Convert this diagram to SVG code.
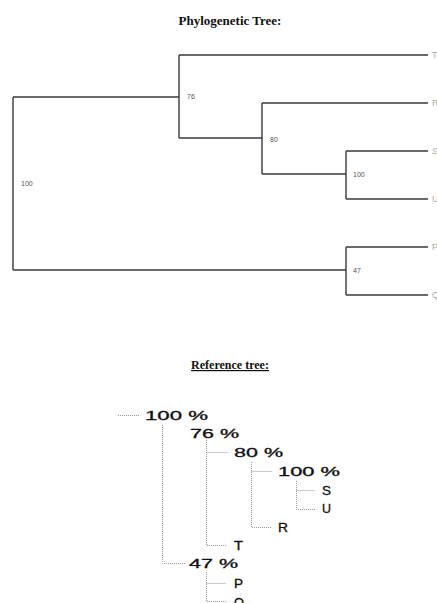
<svg xmlns="http://www.w3.org/2000/svg" width="437" height="603" viewBox="0 0 437 603">
<style>
  .title{font-family:"Liberation Serif",serif;font-weight:bold;fill:#111;text-anchor:middle}
  .br{fill:none;stroke:#3a3a3a;stroke-width:1.4}
  .bs{font-family:"Liberation Sans",sans-serif;font-size:7px;fill:#555}
  .leaf{font-family:"Liberation Sans",sans-serif;font-size:9px;fill:#aaa}
  .dot{fill:none;stroke:#999;stroke-width:1;stroke-dasharray:1 1}
  .rt{font-family:"Liberation Sans",sans-serif;font-size:12px;fill:#111;stroke:#111;stroke-width:0.3}
</style>
<rect width="437" height="603" fill="#fff"/>
<text class="title" x="230" y="25" font-size="13">Phylogenetic Tree:</text>
<g id="connectors">
  <path class="br" d="M13,97 V270 M13,97 H179 M13,270 H346"/>
  <path class="br" d="M179,55 V138 M179,55 H428 M179,138 H262"/>
  <path class="br" d="M262,103 V174 M262,103 H428 M262,174 H346"/>
  <path class="br" d="M346,151 V199 M346,151 H428 M346,199 H428"/>
  <path class="br" d="M346,247 V295 M346,247 H428 M346,295 H428"/>
</g>
<g id="node-root"><text class="bs" x="21" y="186">100</text></g>
<g id="node-76"><text class="bs" x="187" y="99">76</text></g>
<g id="node-80"><text class="bs" x="270" y="142">80</text></g>
<g id="node-100b"><text class="bs" x="353" y="177">100</text></g>
<g id="node-47"><text class="bs" x="353" y="273">47</text></g>
<g id="leaves">
  <text class="leaf" x="432" y="58">T</text>
  <text class="leaf" x="432" y="106">R</text>
  <text class="leaf" x="432" y="154">S</text>
  <text class="leaf" x="432" y="202">U</text>
  <text class="leaf" x="432" y="250">P</text>
  <text class="leaf" x="432" y="298">Q</text>
</g>
<text class="title" x="230" y="369" font-size="12" text-decoration="underline">Reference tree:</text>
<g id="ref-connectors">
  <path class="dot" d="M118,415.5 H140"/>
  <path class="dot" d="M162.5,425 V563.5 H185"/>
  <path class="dot" d="M206.5,438 V545.5 H226 M206.5,452.5 H228"/>
  <path class="dot" d="M251.5,462 V527.5 H272 M251.5,471.5 H272"/>
  <path class="dot" d="M296.5,481 V509.5 H315 M296.5,490.5 H315"/>
  <path class="dot" d="M206.5,572 V601.5 H226 M206.5,583.5 H226"/>
</g>
<g id="ref-100"><text class="rt" x="145" y="420" textLength="63" lengthAdjust="spacingAndGlyphs">100 %</text></g>
<g id="ref-76"><text class="rt" x="190" y="438" textLength="49" lengthAdjust="spacingAndGlyphs">76 %</text></g>
<g id="ref-80"><text class="rt" x="234" y="457" textLength="49" lengthAdjust="spacingAndGlyphs">80 %</text></g>
<g id="ref-100b"><text class="rt" x="278" y="475.5" textLength="62" lengthAdjust="spacingAndGlyphs">100 %</text></g>
<g id="ref-S"><text class="rt" x="322" y="494.5" textLength="9" lengthAdjust="spacingAndGlyphs">S</text></g>
<g id="ref-U"><text class="rt" x="322" y="513" textLength="9" lengthAdjust="spacingAndGlyphs">U</text></g>
<g id="ref-R"><text class="rt" x="278" y="531.5" textLength="10" lengthAdjust="spacingAndGlyphs">R</text></g>
<g id="ref-T"><text class="rt" x="234" y="550" textLength="9" lengthAdjust="spacingAndGlyphs">T</text></g>
<g id="ref-47"><text class="rt" x="189" y="568" textLength="49" lengthAdjust="spacingAndGlyphs">47 %</text></g>
<g id="ref-P"><text class="rt" x="234" y="588" textLength="9" lengthAdjust="spacingAndGlyphs">P</text></g>
<g id="ref-Q"><text class="rt" x="234" y="606.5" textLength="10" lengthAdjust="spacingAndGlyphs">Q</text></g>
</svg>
